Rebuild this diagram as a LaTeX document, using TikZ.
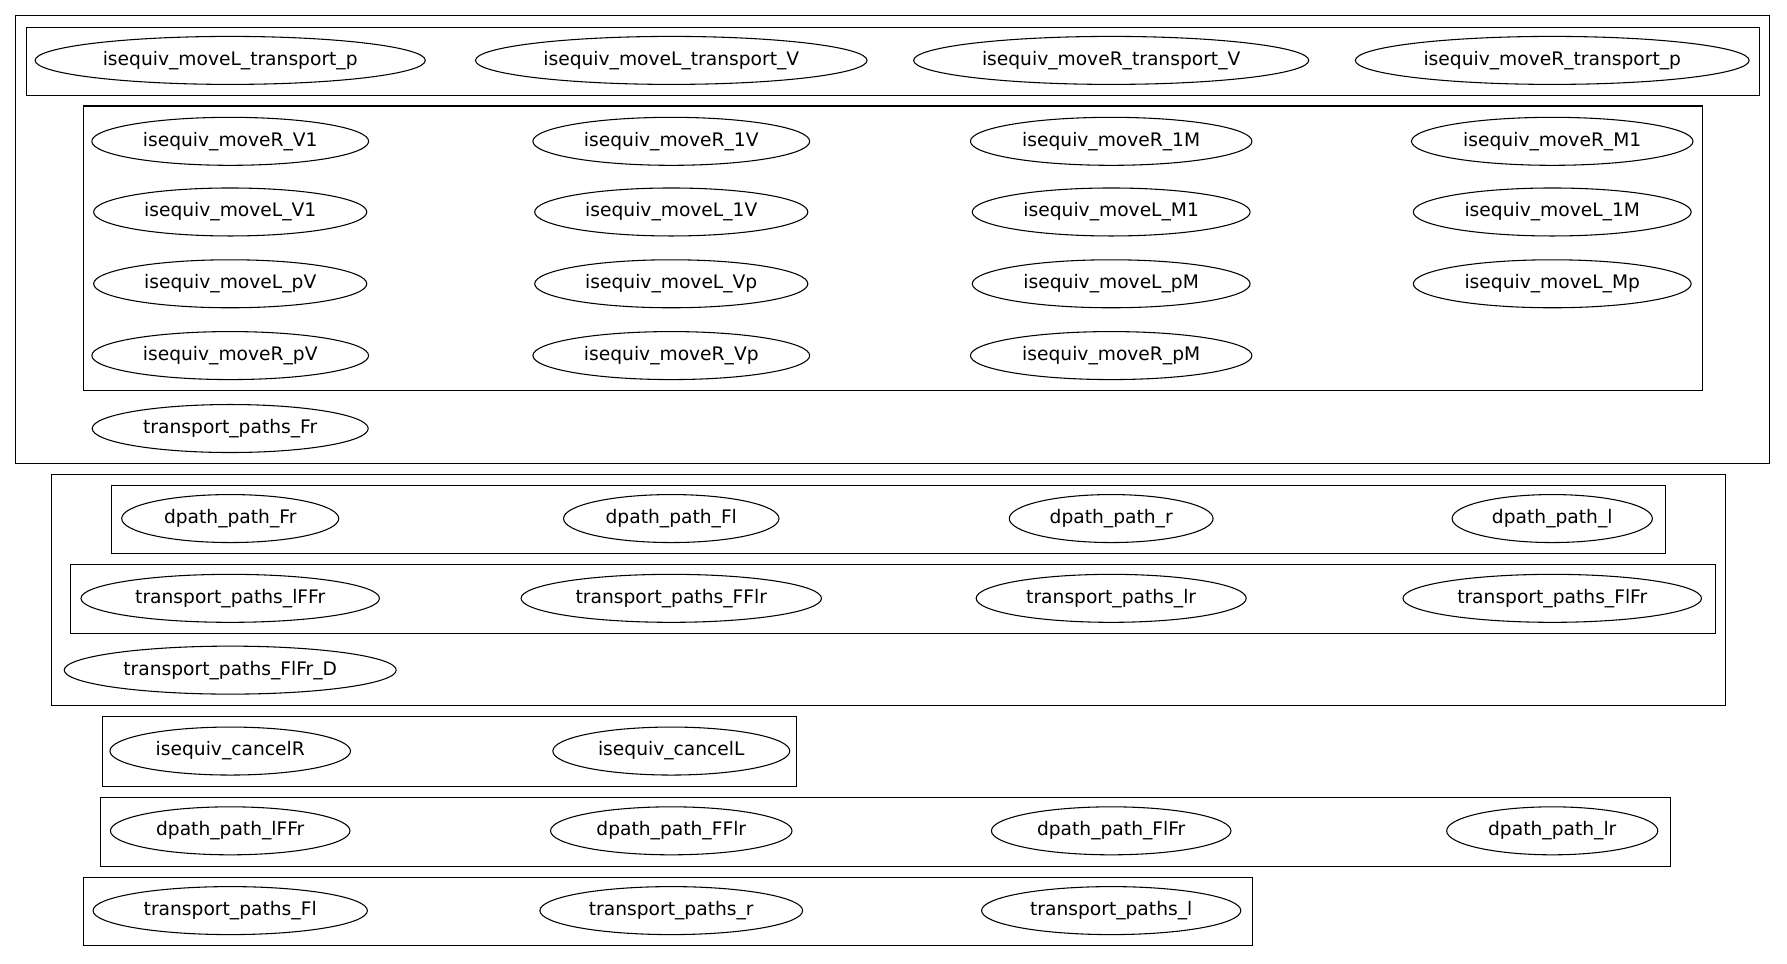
\documentclass[tikz,border=0pt]{standalone}
\usepackage{fontspec}
\setmainfont{DejaVu Sans}
\usetikzlibrary{shapes.geometric, positioning}

\begin{document}
\begin{tikzpicture}[
		x=0.855pt, y=-0.855pt,
		lemma/.style={draw, ellipse, line width=0.8pt, inner xsep=7.9pt, inner ysep=3pt, minimum height=36pt, font=\fontsize{14}{16}\selectfont},
		cluster/.style={draw, line width=0.8pt}
	]

	\fill[white] (0,0) rectangle (1568,845);
	\useasboundingbox (0,0) rectangle (1568,845);

	% Clusters
	\draw[cluster] (14,14) rectangle (1553,407);
	\draw[cluster] (23,24) rectangle (1544,84);
	\draw[cluster] (73,93) rectangle (1494,343);
	\draw[cluster] (45,416) rectangle (1514,619);
	\draw[cluster] (98,426) rectangle (1461,486);
	\draw[cluster] (62,495) rectangle (1505,556);
	\draw[cluster] (90,629) rectangle (699,690);
	\draw[cluster] (88,700) rectangle (1466,760);
	\draw[cluster] (73,770) rectangle (1099,830);

	% Transport lemmas
	\node[lemma] (mLtp) at (202,53) {isequiv\_moveL\_transport\_p};
	\node[lemma] (mLtV) at (589,53) {isequiv\_moveL\_transport\_V};
	\node[lemma] (mRtV) at (975,53) {isequiv\_moveR\_transport\_V};
	\node[lemma] (mRtp) at (1362,53) {isequiv\_moveR\_transport\_p};

	% Move lemmas
	\node[lemma] (mRV1) at (202,124) {isequiv\_moveR\_V1};
	\node[lemma] (mR1V) at (589,124) {isequiv\_moveR\_1V};
	\node[lemma] (mR1M) at (975,124) {isequiv\_moveR\_1M};
	\node[lemma] (mRM1) at (1362,124) {isequiv\_moveR\_M1};

	\node[lemma] (mLV1) at (202,186) {isequiv\_moveL\_V1};
	\node[lemma] (mL1V) at (589,186) {isequiv\_moveL\_1V};
	\node[lemma] (mLM1) at (975,186) {isequiv\_moveL\_M1};
	\node[lemma] (mL1M) at (1362,186) {isequiv\_moveL\_1M};

	\node[lemma] (mLpV) at (202,249) {isequiv\_moveL\_pV};
	\node[lemma] (mLVp) at (589,249) {isequiv\_moveL\_Vp};
	\node[lemma] (mLpM) at (975,249) {isequiv\_moveL\_pM};
	\node[lemma] (mLMp) at (1362,249) {isequiv\_moveL\_Mp};

	\node[lemma] (mRpV) at (202,312) {isequiv\_moveR\_pV};
	\node[lemma] (mRVp) at (589,312) {isequiv\_moveR\_Vp};
	\node[lemma] (mRpM) at (975,312) {isequiv\_moveR\_pM};

	\node[lemma] (tpFr) at (202,376) {transport\_paths\_Fr};

	% Path lemmas
	\node[lemma] (dpFr) at (202,455) {dpath\_path\_Fr};
	\node[lemma] (dpFl) at (589,455) {dpath\_path\_Fl};
	\node[lemma] (dpr) at (975,455) {dpath\_path\_r};
	\node[lemma] (dpl) at (1362,455) {dpath\_path\_l};

	\node[lemma] (tplFFr) at (202,525) {transport\_paths\_lFFr};
	\node[lemma] (tpFFlr) at (589,525) {transport\_paths\_FFlr};
	\node[lemma] (tplr) at (975,525) {transport\_paths\_lr};
	\node[lemma] (tpFlFr) at (1362,525) {transport\_paths\_FlFr};

	\node[lemma] (tpFlFrD) at (202,588) {transport\_paths\_FlFr\_D};

	% Cancel lemmas
	\node[lemma] (cR) at (202,659) {isequiv\_cancelR};
	\node[lemma] (cL) at (589,659) {isequiv\_cancelL};

	\node[lemma] (dplFFr) at (202,729) {dpath\_path\_lFFr};
	\node[lemma] (dpFFlr) at (589,729) {dpath\_path\_FFlr};
	\node[lemma] (dpFlFr) at (975,729) {dpath\_path\_FlFr};
	\node[lemma] (dplr) at (1362,729) {dpath\_path\_lr};

	\node[lemma] (tpFl) at (202,799) {transport\_paths\_Fl};
	\node[lemma] (tpr) at (589,799) {transport\_paths\_r};
	\node[lemma] (tpl) at (975,799) {transport\_paths\_l};

\end{tikzpicture}
\end{document}
